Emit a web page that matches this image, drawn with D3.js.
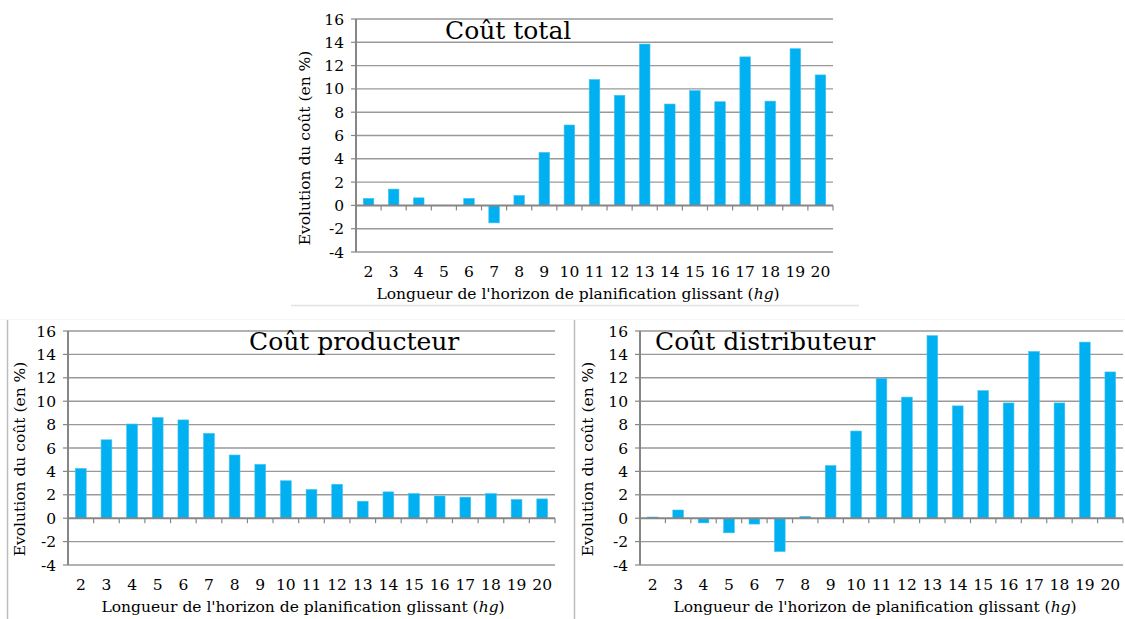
<!DOCTYPE html>
<html>
<head>
<meta charset="utf-8">
<script src="https://cdn.jsdelivr.net/npm/d3@7"></script>
<style>
  body { margin: 0; background: #fff; }
  text { font-family: "DejaVu Serif", serif; fill: #000; }
</style>
</head>
<body>
<div id="chart"></div>
<script>
// horizon lengths (hg)
var horizons = [2, 3, 4, 5, 6, 7, 8, 9, 10, 11, 12, 13, 14, 15, 16, 17, 18, 19, 20];
var yTicks = [-4, -2, 0, 2, 4, 6, 8, 10, 12, 14, 16];

var coutTotal = [0.6, 1.4, 0.65, 0, 0.6, -1.5, 0.85, 4.55, 6.9, 10.8, 9.45, 13.85, 8.7, 9.85, 8.9, 12.75, 8.95, 13.45, 11.2];
var coutProducteur = [4.25, 6.7, 8.05, 8.6, 8.4, 7.25, 5.4, 4.6, 3.2, 2.45, 2.9, 1.45, 2.25, 2.1, 1.9, 1.8, 2.1, 1.6, 1.65];
var coutDistributeur = [0.1, 0.7, -0.4, -1.25, -0.5, -2.85, 0.15, 4.5, 7.45, 11.95, 10.35, 15.6, 9.6, 10.9, 9.85, 14.25, 9.85, 15.05, 12.5];

var width = 1125, height = 619;
var fontSize = "15.5px";

var svg = d3.select("#chart").append("svg")
  .attr("width", width)
  .attr("height", height);

// panel frames
svg.append("line").attr("x1", 291).attr("x2", 859).attr("y1", 305.5).attr("y2", 305.5)
  .attr("stroke", "#e3e3e3").attr("stroke-width", 1.5);
svg.append("line").attr("x1", 0).attr("x2", 1125).attr("y1", 319.5).attr("y2", 319.5)
  .attr("stroke", "#f4f4f4");
svg.append("line").attr("x1", 7.5).attr("x2", 7.5).attr("y1", 320).attr("y2", 619)
  .attr("stroke", "#bdbdbd").attr("stroke-width", 1.5);
svg.append("line").attr("x1", 574.5).attr("x2", 574.5).attr("y1", 320).attr("y2", 619)
  .attr("stroke", "#bdbdbd").attr("stroke-width", 1.5);

function drawPanel(p) {
  var g = svg.append("g");

  var x = d3.scaleBand()
    .domain(horizons)
    .range([p.x0, p.x1])
    .paddingInner(0.58)
    .paddingOuter(0.29);

  var y = d3.scaleLinear()
    .domain([-4, 16])
    .range([p.yBottom, p.yTop]);

  // gridlines
  g.selectAll(".grid")
    .data(yTicks.filter(function(d) { return d !== 0; }))
    .enter().append("line")
    .attr("x1", p.x0).attr("x2", p.x1)
    .attr("y1", function(d) { return y(d); })
    .attr("y2", function(d) { return y(d); })
    .attr("stroke", "#999")
    .attr("stroke-width", 1.4);

  // bars
  g.selectAll(".bar")
    .data(p.values)
    .enter().append("rect")
    .attr("x", function(d, i) { return x(horizons[i]); })
    .attr("width", x.bandwidth())
    .attr("y", function(d) { return y(Math.max(0, d)); })
    .attr("height", function(d) { return Math.abs(y(d) - y(0)); })
    .attr("fill", "#00b0f0")
    .attr("stroke", "#3fc3f3")
    .attr("stroke-width", 0.6);

  // zero axis with tick marks at category boundaries
  var bounds = d3.range(horizons.length + 1).map(function(i) { return p.x0 + i * (p.x1 - p.x0) / horizons.length; });
  g.append("line")
    .attr("x1", p.x0).attr("x2", p.x1)
    .attr("y1", y(0)).attr("y2", y(0))
    .attr("stroke", "#868686").attr("stroke-width", 2);
  g.selectAll(".xtick")
    .data(bounds)
    .enter().append("line")
    .attr("x1", function(d) { return d; })
    .attr("x2", function(d) { return d; })
    .attr("y1", y(0)).attr("y2", y(0) + 5)
    .attr("stroke", "#868686").attr("stroke-width", 1.2);

  // vertical axis
  g.append("line")
    .attr("x1", p.x0).attr("x2", p.x0)
    .attr("y1", p.yTop).attr("y2", p.yBottom)
    .attr("stroke", "#868686").attr("stroke-width", 2);
  g.selectAll(".ytick")
    .data(yTicks)
    .enter().append("line")
    .attr("x1", p.x0 - 5).attr("x2", p.x0)
    .attr("y1", function(d) { return y(d); })
    .attr("y2", function(d) { return y(d); })
    .attr("stroke", "#868686").attr("stroke-width", 1.2);

  // y tick labels
  g.selectAll(".ylab")
    .data(yTicks)
    .enter().append("text")
    .attr("x", p.x0 - 12)
    .attr("y", function(d) { return y(d); })
    .attr("dy", "0.36em")
    .attr("text-anchor", "end")
    .style("font-size", fontSize)
    .text(function(d) { return d; });

  // x tick labels
  g.selectAll(".xlab")
    .data(horizons)
    .enter().append("text")
    .attr("x", function(d) { return x(d) + x.bandwidth() / 2; })
    .attr("y", p.yBottom + 25)
    .attr("text-anchor", "middle")
    .style("font-size", fontSize)
    .text(function(d) { return d; });

  // axis titles
  var xt = g.append("text")
    .attr("x", p.xTitleX)
    .attr("y", p.yBottom + 47)
    .attr("text-anchor", "middle")
    .style("font-size", fontSize);
  xt.append("tspan").text("Longueur de l'horizon de planification glissant (");
  xt.append("tspan").style("font-style", "italic").text("hg");
  xt.append("tspan").text(")");

  g.append("text")
    .attr("transform", "translate(" + p.yTitleX + "," + p.yTitleY + ") rotate(-90)")
    .attr("text-anchor", "middle")
    .attr("dy", "0.35em")
    .style("font-size", fontSize)
    .text("Evolution du coût (en %)");

  // chart title
  g.append("text")
    .attr("x", p.titleX)
    .attr("y", p.titleY)
    .style("font-size", "25px")
    .text(p.title);
}

drawPanel({ title: "Coût total", values: coutTotal,
  x0: 356, x1: 833, yTop: 19, yBottom: 252,
  titleX: 445, titleY: 39, xTitleX: 578, yTitleX: 305, yTitleY: 148 });

drawPanel({ title: "Coût producteur", values: coutProducteur,
  x0: 68, x1: 555, yTop: 331, yBottom: 565,
  titleX: 249, titleY: 350, xTitleX: 303, yTitleX: 20, yTitleY: 459 });

drawPanel({ title: "Coût distributeur", values: coutDistributeur,
  x0: 640, x1: 1123, yTop: 331, yBottom: 565,
  titleX: 655, titleY: 350, xTitleX: 875, yTitleX: 588, yTitleY: 459 });
</script>
</body>
</html>
